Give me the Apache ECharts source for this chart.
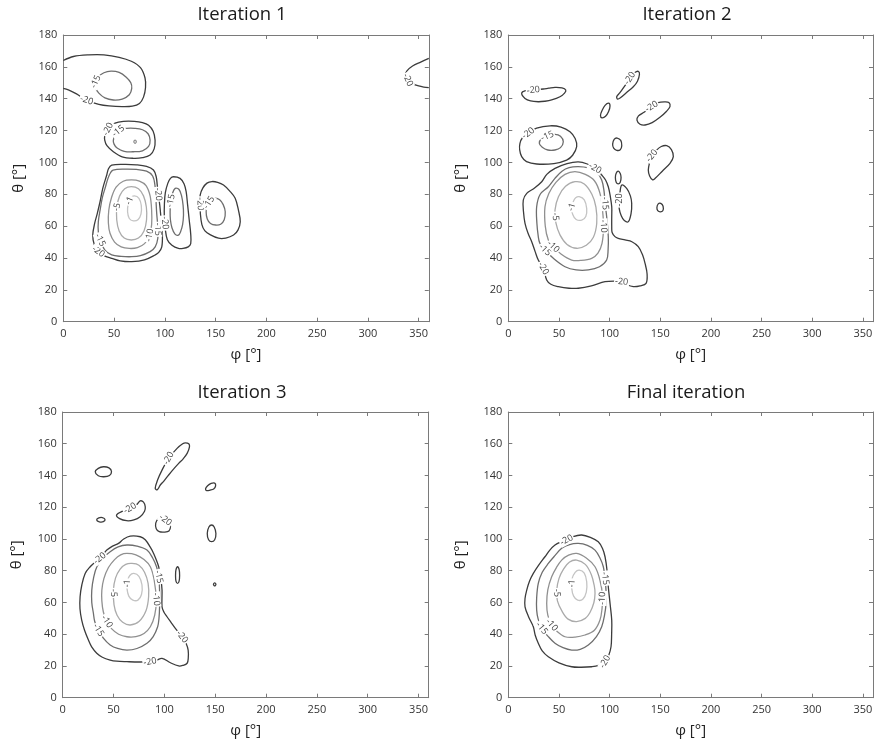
<!DOCTYPE html>
<html>
<head>
<meta charset="utf-8">
<title>Pattern iterations</title>
<script src="https://cdn.jsdelivr.net/npm/echarts@6/dist/echarts.min.js"></script>
<style>
  html, body { margin: 0; padding: 0; background: #ffffff; }
  #chart { width: 876px; height: 745px; }
</style>
</head>
<body>
<div id="chart"></div>
<script>
// ---- axis ticks ----
const phiTicks = [0, 50, 100, 150, 200, 250, 300, 350];
const thetaTicks = [0, 20, 40, 60, 80, 100, 120, 140, 160, 180];
const phiRange = [0, 360];
const thetaRange = [0, 180];

// ---- contour levels (dB) ----
const levels = [-20, -15, -10, -5, -1];
const levelColors = ['#3c3c3c', '#6e6e6e', '#909090', '#ababab', '#c4c4c4'];

const panelTitles = ['Iteration 1', 'Iteration 2', 'Iteration 3', 'Final iteration'];

// Contours: [level, closed (1) / open (0), [[phi, theta], ...]]
const iter1Contours = [
  [-20, 0, [[0,164],[10,166.5],[25,167.5],[40,167.5],[55,166],[67,163.5],[76,159.5],[80.5,153],[81,147],[79,141],[75,137],[68,135.3],[58,135],[45,135.5],[35,136.5],[23,139],[13,143],[5,145.5],[0,146.5]]],
  [-15, 1, [[31.3,149.7],[34,153.5],[40,156.3],[47,157.3],[55,156.5],[62,153.5],[66.5,150],[67.4,146.5],[65,142.5],[58,139.8],[49.3,139.2],[41,140.5],[35,143.5],[31.5,147]]],
  [-20, 0, [[360,165.3],[352,163],[344,160.5],[338.5,157.5],[337,155],[339.5,151.5],[344,149.5],[350,148],[355,147.3],[360,147]]],
  [-20, 1, [[41,117],[44.5,121.5],[51,124.7],[59.2,125.8],[70,125.8],[78,125],[84,123.3],[88.5,119.5],[90.4,114],[89.5,108.5],[85.5,104.6],[78,103],[69,102.6],[58,103.5],[49.3,106.7],[43,110.5],[40.8,114]]],
  [-15, 1, [[49.3,114],[52,118.5],[56.5,120.7],[62.5,121.4],[70,121.4],[78,120.5],[83.5,118],[85.5,114],[84,110],[78,107.3],[69,106.7],[60,107],[53,109],[50,111.5]]],
  [-10, 1, [[69.5,113],[70.7,114],[71.9,113],[70.7,112]]],
  [-20, 1, [[47.7,98.3],[60,98.8],[72,98.5],[82,97.5],[88.8,95.2],[91.5,91],[92.5,86],[93.5,80],[95,73.3],[96.5,63],[97.6,55],[97,47],[94,43.5],[90.4,41.9],[80,38.8],[67.4,37.7],[56,38.2],[47.7,39.8],[40,41.5],[34.5,44],[30.5,48.5],[29,54.4],[31,62],[33.5,68],[36.2,75.3],[39,84],[42.8,92.1],[44.5,96]]],
  [-15, 1, [[49,95.2],[60,95.8],[72,95.6],[82,94.5],[88,91.5],[90.4,85],[91.2,77],[92,68],[93,60],[93.1,52.4],[90.5,47],[85.5,44],[76,41.5],[67.4,40.8],[57,41],[47.7,41.9],[41,45],[36.2,51.3],[34.5,56.5],[34.5,62.8],[36.5,71],[38.5,78],[41.1,83.7],[44,90],[46.5,93.5]]],
  [-10, 1, [[67,89],[75,88.3],[81.5,85.5],[85.5,79],[87,70],[87,61],[85,54],[80,49],[73,46.5],[65,46],[57,47],[50.5,50],[46,55.5],[44.4,62],[44.8,70],[47.5,78],[52,84.5],[59,88.2]]],
  [-5, 1, [[67,84.8],[74,83.5],[79,79],[81.8,72],[82,64],[79.5,57],[74,52.5],[67,51.3],[60,52.5],[55,57],[52.6,64],[52.8,72],[55.5,79],[60.5,83.5]]],
  [-1, 1, [[70,79],[74.5,77.5],[76.8,73],[76.5,67.5],[73.5,64],[69,63.3],[65,64.8],[63.3,69],[64,74],[66.5,77.8]]],
  [-20, 1, [[108.5,91],[115,90],[119,86.5],[121,81.6],[122.5,73],[124,64],[125.5,55],[125.5,49],[123,47],[118,46],[113.4,46],[107,48],[102.5,51.5],[100.5,58],[99.5,66],[99.6,74],[100.5,81],[103,87],[105.5,90]]],
  [-15, 1, [[110.2,83.7],[114,83],[116.5,79],[118,73],[118.4,67],[117.5,61],[115.5,56.5],[113.4,54.4],[110,55],[107,59],[105.5,64],[105.2,69],[105.7,75],[107.5,80.5]]],
  [-20, 1, [[146.4,88],[152,87.5],[157.8,85.8],[164,82],[169.3,77.5],[172.5,70],[174.3,62.8],[172,57.5],[167.7,54.4],[160,52.5],[152.9,52.4],[145,54.5],[139.5,57],[136.5,61],[135,68],[134.8,74],[134.8,79.5],[137.5,84],[141.5,87]]],
  [-15, 1, [[149.6,77.5],[154,76.5],[157.5,73.5],[159.5,69],[158.5,64],[155,61.2],[150,60.7],[145,61.7],[141.8,64.5],[140.7,69],[142,73.3],[145,76.3]]]
];
// Inline labels: [phi, theta, level]
const iter1Labels = [
  [23,139,-20],[31,151,-15],[340,152,-20],[44.4,120.8,-20],[54,119.8,-15],
  [34.5,44,-20],[36.2,51.3,-15],[53,72,-5],[65,76,-1],[84.5,54.4,-10],
  [93.5,80,-20],[93,58,-15],[100,62,-20],[106,76,-15],[134.8,74,-20],[143,75,-15]
];

const iter2Contours = [
  [-20, 1, [[13.2,143.4],[16.5,140.2],[22,138.6],[29.6,138.1],[36,138.4],[42.8,139.2],[51,141.2],[55.5,143.5],[56.7,145.5],[53,146.8],[46.1,147.1],[40,146.6],[34.5,146.1],[24.7,145.4],[17,145]]],
  [-20, 1, [[107,141.2],[110,143.7],[115,148],[120,152.8],[125,156.4],[128.3,157.2],[129.5,155.5],[127.5,151],[123.4,147.5],[117,144],[111,140.8],[108,139.8]]],
  [-20, 1, [[91,129.5],[92.5,132.5],[95.5,135.8],[99,137.2],[100.4,135.5],[99,132],[96,129],[92.5,128]]],
  [-20, 1, [[127,126.5],[130,124],[135,123.5],[142,125],[150,128.5],[156,132],[159.6,135],[158.5,137.6],[154,138],[148,137.5],[141.5,135],[134,131.5],[128.5,129.2]]],
  [-20, 1, [[11.5,112],[14,115.5],[19.7,118.3],[28,121.5],[41.2,123],[52,122.2],[60.9,119.3],[66,115],[67.5,109.9],[63.5,104.5],[57.6,101.5],[45,99.3],[28,99],[18,100.5],[13.2,103.6],[11.2,108]]],
  [-15, 1, [[30.6,112],[33,115],[38.5,116.5],[46.1,117.6],[51.5,116.5],[54.3,113],[51.5,109.3],[46,107.8],[39,107.8],[33.5,109.5]]],
  [-20, 1, [[103,111.5],[104.5,114.5],[107.5,115.3],[111,113.8],[112,110.5],[110.5,108],[107,107.6],[104,109]]],
  [-20, 1, [[141.5,104],[146,107.5],[151,110],[156.4,110.5],[161,108],[162.9,103.6],[159.6,99.4],[152,94.5],[145,90],[142.5,89],[139.5,91.5],[138.2,95.2],[139.5,100]]],
  [-20, 1, [[108.5,94.5],[110.5,93],[111.3,90.5],[110.5,87.5],[108.5,86.5],[106.5,87.5],[105.7,90.5],[106.5,93.2]]],
  [-20, 1, [[112,85.8],[117,83.5],[120.5,79],[121.8,74.3],[121.2,68],[118.5,62.8],[114.5,63.5],[111.5,66.5],[109.5,71],[109.5,76.4],[110.3,81.5]]],
  [-20, 1, [[146.7,71.7],[148,74],[150.5,74.3],[152.8,72.5],[152.5,69.7],[150,69],[147.5,69.8]]],
  [-20, 1, [[85.6,96.3],[78,99],[69.1,100.4],[58,99.3],[46.1,96.3],[38,92.5],[33,87.9],[25,83.5],[18.2,80.6],[14.8,76.4],[15,69],[16.5,61.8],[19.5,55.5],[23.1,50.2],[26.5,44],[29.6,38.7],[34.5,33.5],[37.9,26.2],[42,23.5],[49.4,22],[60,21],[69.1,21],[82,22.5],[95.5,25.1],[105,25.5],[111.9,25.1],[117,23.2],[123.4,22],[130,22.5],[136,24.1],[137,30],[135,36.6],[132.5,42],[128.3,47.1],[122,50.2],[115.2,51.3],[108.5,52.3],[105.3,53.4],[102.5,56],[102.1,59.6],[102.1,66],[102.1,72.2],[100.6,79],[98.7,84.7],[96,89],[92.2,92.1],[88.5,94.5]]],
  [-15, 1, [[69.1,97.3],[79,96.5],[87,94],[92.2,89],[94.5,82],[95.5,74.3],[97.1,66],[98.7,53.4],[98.5,45],[97.1,38.7],[90,34.5],[79,32.5],[67,32.5],[56,34.5],[45,39.5],[36.2,45],[31,49.5],[29.6,53.4],[28.2,62],[28,72.2],[31.5,80],[39.5,84.7],[46,90],[53,94.5],[60,96.7]]],
  [-10, 1, [[65.8,94.2],[76,92.5],[85,88.5],[90.5,80.6],[93,70],[94,59.6],[92.5,49.2],[88.5,43],[82.3,39.8],[72,38.5],[62.6,38.7],[52,42.5],[44.4,47.1],[39.5,51.3],[36.5,60],[36.2,72.2],[40,80.5],[47,87.5],[56,92.5]]],
  [-5, 1, [[65.8,87.9],[75,86.5],[82.5,80],[86.5,72],[87.3,61.8],[84,53],[77,48],[67.5,46.1],[58,48.5],[51,54.5],[47,62],[46.1,70.1],[49.5,78.5],[56.5,85]]],
  [-1, 1, [[70,78.5],[75,76.5],[77.4,71],[76.5,66],[72.5,63.8],[67,64.2],[63.5,67.5],[62.6,72],[64.2,75.5],[66.5,77.8]]]
];
const iter2Labels = [
  [24.7,145.4,-20],[120,152.8,-20],[141.5,135,-20],[19.7,118.3,-20],[38.5,116.5,-15],
  [142,104,-20],[109.5,76.4,-20],[85.6,96.3,-20],[34.5,33.5,-20],[111.9,25.1,-20],
  [95.5,74.3,-15],[36.2,45,-15],[44.4,47.1,-10],[93.5,60,-10],[46.5,66,-5],[63,72,-1]
];

const iter3Contours = [
  [-20, 1, [[32,142.3],[35,144.5],[40,145.5],[45.5,144.8],[48,142.5],[46,140],[40.5,139.2],[35,139.8]]],
  [-20, 1, [[91,131.9],[93.3,137.1],[97.7,143.4],[104.2,150.8],[112.5,157.1],[118,160],[120.7,160.6],[124,160],[124.7,158],[122.4,153.9],[118.5,150.5],[114.1,147.6],[109,144],[104.2,140.3],[99.5,136.5],[96,134],[93,131]]],
  [-20, 1, [[140.5,131.5],[142.5,133.5],[146,135],[149.5,135.2],[150.4,133.5],[148.5,131.5],[145,130.8],[141.5,130.5]]],
  [-20, 1, [[53,115.1],[56,112.8],[62.9,111.5],[70,112],[76.2,114],[80.5,117.5],[81.2,120.3],[79.5,123.2],[76.2,124],[73,121.8],[66.2,119.3],[59,117.5]]],
  [-20, 1, [[33.4,112],[35.5,113.3],[39,113.5],[41.6,112.3],[40,110.9],[36,110.8]]],
  [-20, 1, [[91.5,110],[94,112.8],[98,113.3],[101,111.9],[104.5,110.5],[106,108],[104.5,105],[100,104.3],[95,104.6],[92,106.5]]],
  [-20, 1, [[146.5,108.8],[149,107.5],[150.7,103.5],[149.5,99.5],[146.5,98.3],[143.5,99.5],[142.2,103.5],[143.8,107.5]]],
  [-20, 1, [[113,82.5],[114.6,80.5],[115,77],[114.5,73.5],[113,72],[111.4,73.5],[111,77],[111.4,80.5]]],
  [-20, 1, [[149.5,72.4],[150.7,71.4],[149.5,70.4],[148.3,71.4]]],
  [-20, 1, [[54.9,97.2],[60,100],[66.4,101.8],[76.3,101.4],[81.2,99.5],[86,95],[89.4,90.9],[94.4,82.5],[96.5,75],[97.7,67.8],[97.7,57.3],[99.5,54],[102.6,51],[106.5,47.5],[110.8,43.7],[117.4,38.4],[121.5,34],[123.4,30],[123.5,25],[122.4,21.7],[118,20.3],[114.1,20],[106,22],[97.7,24.8],[92,23.5],[85.9,22.7],[75,22.5],[63.2,22.7],[53,23],[46.7,23.7],[39,25.5],[33.5,28],[28.5,32],[25.3,36.3],[21.5,42.5],[18.7,48.9],[17,56],[17.1,63.6],[18.8,71],[22.1,78.3],[27,82.5],[32,85.5],[36.5,87.8],[40,90.5],[43.4,93],[49,95.5]]],
  [-15, 1, [[63.2,96.2],[73,95.5],[82.9,93],[88.5,88],[92.3,82.5],[94.5,76.2],[95.3,67],[95.3,57.3],[94.7,50],[93.4,44.7],[89,38.5],[82.9,34.3],[73,31],[63.2,30],[54,31],[46.7,33.2],[40,37.5],[35.1,42.6],[31.5,48],[30.2,53.2],[28.6,60],[28.6,67.8],[30.5,76],[33.6,82.5],[39.5,88],[46.7,92],[54.5,95]]],
  [-10, 1, [[63.2,90.9],[72,90],[80,87],[86.2,82.5],[90,74],[92,61.5],[90.5,52],[86.2,44.7],[80,40.5],[72,38.5],[63.2,38.4],[55,40],[48,43.5],[43.4,47.9],[40,54],[38.5,61],[38.5,67.8],[40.5,75],[45,82],[51,87],[57,90]]],
  [-5, 1, [[68.2,84.6],[75,83.5],[80.5,79],[84,72],[84.5,63.6],[82,55],[75,48],[66.4,45.8],[59,47.5],[53.5,52],[50.5,58.5],[49.9,67.8],[52,75.5],[56.5,81],[62,84]]],
  [-1, 1, [[70,78.3],[75,76.5],[78,71],[77.5,65],[74,61.5],[69,61.5],[65,64],[63.2,69],[63.6,73.5],[66,77]]]
];
const iter3Labels = [
  [104.2,150.8,-20],[66.2,119.3,-20],[101,111.9,-20],[36.5,87.8,-20],[85.9,22.7,-20],[117.4,38.4,-20],
  [94.5,76.2,-15],[35.1,42.6,-15],[43.4,47.9,-10],[91.5,62,-10],[50,66,-5],[64,72,-1]
];

const finalContours = [
  [-20, 1, [[57.6,99.3],[64,101.5],[72.4,102.5],[81,101],[88.8,98.2],[93,94],[95.5,88.8],[97.5,80],[98.7,69.9],[100.5,59],[102.1,48.9],[102,40],[101.4,32.1],[99,26.5],[95.5,22.7],[89,20.3],[82.3,19.5],[72,19.2],[62.6,19.5],[50,22],[39.5,25.8],[33.5,29.5],[29.6,34.3],[26.5,39.5],[24.7,44.7],[20,51],[16.5,57.3],[16.5,62.5],[18.2,67.8],[21,73.5],[24.7,78.3],[30,83.5],[36.2,88.8],[41,93],[46.1,96.2],[51.5,98]]],
  [-15, 1, [[69.1,97.2],[78,96],[85.6,93],[90.5,88],[93.8,82.5],[95.5,75.2],[96.5,67],[96.5,59.4],[95,52],[92.2,44.7],[87,38.5],[79,33.2],[71,30.5],[62.6,30],[54,31.5],[46.1,34.3],[39.5,38.5],[33,43.7],[29.5,49.5],[28,55.2],[28,63],[29.6,72],[33.5,79],[39.5,84.6],[46,89.5],[52.7,94.1],[60.5,96.5]]],
  [-10, 1, [[67.5,90.9],[77,88],[85.6,82.5],[90.5,74],[93,64],[92.5,56],[90.5,48.9],[85,42.5],[75.7,39.5],[66,38.2],[56,38.4],[48.5,41.5],[42.8,45.8],[39,52],[37.9,59.4],[39,68],[42.8,76.2],[47.5,82],[52.7,86.7],[59.5,89.8]]],
  [-5, 1, [[67.5,86.7],[76,84],[82,77.5],[85,70],[85.6,65.7],[84.5,60],[80.5,53.5],[76,50],[67.5,47.9],[59,49.5],[53,54.5],[48.5,61],[47.8,67.8],[50,75],[54.5,81],[60.5,85.5]]],
  [-1, 1, [[70,80.4],[75,78.5],[77.4,73],[77,66.5],[73.5,62],[68.5,61.5],[64.5,64],[62.6,69],[63,75],[66,79]]]
];
const finalLabels = [
  [57.6,99.3,-20],[95.5,22.7,-20],[95.5,75.2,-15],[33,43.7,-15],
  [92.8,62.6,-10],[42.8,45.8,-10],[48,66,-5],[63,72,-1]
];

const panels = [
  { title: panelTitles[0], contours: iter1Contours, labels: iter1Labels },
  { title: panelTitles[1], contours: iter2Contours, labels: iter2Labels },
  { title: panelTitles[2], contours: iter3Contours, labels: iter3Labels },
  { title: panelTitles[3], contours: finalContours, labels: finalLabels }
];

// ---- layout of the 2x2 subplots (pixels) ----
const gridBoxes = [
  { left: 63.3, top: 35, width: 365.5, height: 286.7, yGap: 37, titleX: 242, titleY: 15 },
  { left: 508.3, top: 35, width: 364.7, height: 286.7, yGap: 40, titleX: 687, titleY: 15 },
  { left: 62.7, top: 412, width: 366, height: 285.7, yGap: 38, titleX: 242, titleY: 393 },
  { left: 508.3, top: 412, width: 364.7, height: 285.7, yGap: 40, titleX: 686, titleY: 393 }
];

const FONT = '"Open Sans", "DejaVu Sans", sans-serif';
const AXIS_COLOR = '#7a7a7a';

function levelColor(lv) {
  return levelColors[levels.indexOf(lv)];
}

function xAxisFor(gi, pos) {
  const main = pos === 'bottom';
  return {
    type: 'value', gridIndex: gi, position: pos,
    min: phiRange[0], max: phiRange[1], interval: phiTicks[1] - phiTicks[0],
    axisLine: { show: true, onZero: false, lineStyle: { color: AXIS_COLOR, width: 1 } },
    axisTick: { show: true, inside: true, length: 4, lineStyle: { color: AXIS_COLOR } },
    axisLabel: { show: main, showMaxLabel: false, margin: 7, color: '#333', fontSize: 11, fontFamily: FONT },
    splitLine: { show: false },
    name: main ? 'φ [°]' : '', nameLocation: 'middle', nameGap: 26,
    nameTextStyle: { color: '#222', fontSize: 15, fontFamily: FONT }
  };
}

function yAxisFor(gi, pos) {
  const main = pos === 'left';
  return {
    type: 'value', gridIndex: gi, position: pos,
    min: thetaRange[0], max: thetaRange[1], interval: thetaTicks[1] - thetaTicks[0],
    axisLine: { show: true, onZero: false, lineStyle: { color: AXIS_COLOR, width: 1 } },
    axisTick: { show: true, inside: true, length: 4, lineStyle: { color: AXIS_COLOR } },
    axisLabel: { show: main, margin: 6, color: '#333', fontSize: 11, fontFamily: FONT },
    splitLine: { show: false },
    name: main ? 'θ [°]' : '', nameLocation: 'middle', nameGap: gridBoxes[gi].yGap,
    nameTextStyle: { color: '#222', fontSize: 15, fontFamily: FONT }
  };
}

function contourSeries(gi, contours) {
  return {
    type: 'custom', coordinateSystem: 'cartesian2d',
    xAxisIndex: gi * 2, yAxisIndex: gi * 2,
    silent: true, clip: true, z: 2,
    data: contours.map((c, i) => [c[2][0][0], c[2][0][1], i]),
    encode: { x: 0, y: 1 },
    renderItem: function (params, api) {
      const c = contours[api.value(2)];
      const pts = c[2].map(p => api.coord(p));
      return {
        type: c[1] ? 'polygon' : 'polyline',
        shape: { points: pts, smooth: 0.35 },
        style: { fill: 'none', stroke: levelColor(c[0]), lineWidth: 1.3 }
      };
    }
  };
}

// Labels sit on the nearest contour of the same level, rotated along it.
function labelSeries(gi, contours, labels) {
  return {
    type: 'custom', coordinateSystem: 'cartesian2d',
    xAxisIndex: gi * 2, yAxisIndex: gi * 2,
    silent: true, clip: false, z: 5,
    data: labels.map(l => [l[0], l[1], l[2]]),
    encode: { x: 0, y: 1 },
    renderItem: function (params, api) {
      const lv = api.value(2);
      const p = api.coord([api.value(0), api.value(1)]);
      let best = Infinity, ang = 0, pos = p;
      contours.forEach(c => {
        if (c[0] !== lv) return;
        const px = c[2].map(q => api.coord(q));
        const n = px.length;
        const segs = c[1] ? n : n - 1;
        for (let i = 0; i < segs; i++) {
          const a = px[i], b = px[(i + 1) % n];
          const dx = b[0] - a[0], dy = b[1] - a[1];
          const len2 = dx * dx + dy * dy || 1;
          let t = ((p[0] - a[0]) * dx + (p[1] - a[1]) * dy) / len2;
          t = Math.max(0, Math.min(1, t));
          const qx = a[0] + t * dx, qy = a[1] + t * dy;
          const d = (qx - p[0]) ** 2 + (qy - p[1]) ** 2;
          if (d < best) { best = d; ang = Math.atan2(-dy, dx); pos = [qx, qy]; }
        }
      });
      if (ang > Math.PI / 2) ang -= Math.PI;
      if (ang < -Math.PI / 2) ang += Math.PI;
      return {
        type: 'text', x: pos[0], y: pos[1], rotation: ang,
        style: {
          text: String(lv), fill: '#444', font: '9px ' + FONT,
          align: 'center', verticalAlign: 'middle',
          backgroundColor: '#ffffff', padding: [0, 1]
        }
      };
    }
  };
}

const option = {
  backgroundColor: '#ffffff',
  animation: false,
  grid: gridBoxes.map(g => ({ left: g.left, top: g.top, width: g.width, height: g.height, containLabel: false })),
  xAxis: [].concat(...gridBoxes.map((g, gi) => [xAxisFor(gi, 'bottom'), xAxisFor(gi, 'top')])),
  yAxis: [].concat(...gridBoxes.map((g, gi) => [yAxisFor(gi, 'left'), yAxisFor(gi, 'right')])),
  graphic: panels.map((p, gi) => ({
    type: 'text', x: gridBoxes[gi].titleX, y: gridBoxes[gi].titleY,
    style: { text: p.title, font: '18.5px ' + FONT, fill: '#1a1a1a', align: 'center', verticalAlign: 'middle' }
  })),
  series: [].concat(...panels.map((p, gi) => [contourSeries(gi, p.contours), labelSeries(gi, p.contours, p.labels)]))
};

const chart = echarts.init(document.getElementById('chart'), null, { renderer: 'canvas' });
chart.setOption(option);
</script>
</body>
</html>
